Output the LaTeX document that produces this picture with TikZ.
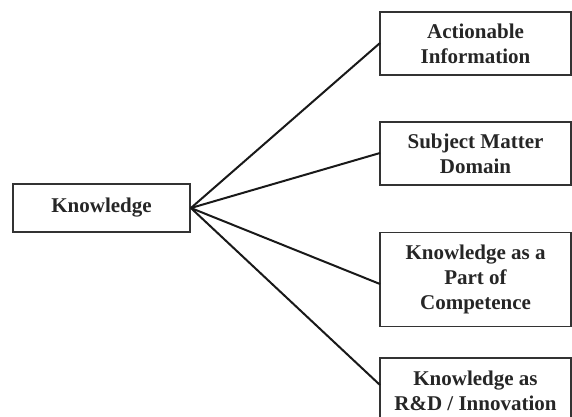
\documentclass[tikz,border=0pt]{standalone}
\usepackage{fontspec}
\setmainfont{Liberation Serif}
\begin{document}
\begin{tikzpicture}[x=1pt,y=-1pt,
  box/.style={draw=black!80, line width=1.8pt, inner sep=0pt, align=center,
    font=\bfseries\fontsize{21}{25}\selectfont, text=black!85},
  link/.style={draw=black!90, line width=2pt}]
\useasboundingbox (0,0) rectangle (572,416);
\clip (0,0) rectangle (572,416);
\node[box, minimum width=177pt, minimum height=48pt] (k) at (101.5,208) {Knowledge};
\node[box, minimum width=191pt, minimum height=63pt] (b1) at (475.5,43.5) {Actionable\\Information};
\node[box, minimum width=191pt, minimum height=63pt] (b2) at (475.5,153.5) {Subject Matter\\Domain};
\node[box, minimum width=191pt, minimum height=94pt] (b3) at (475.5,279.5) {Knowledge as a\\Part of\\Competence};
\node[box, minimum width=191pt, minimum height=66pt] (b4) at (475.5,391) {Knowledge as\\R\&D / Innovation};
\coordinate (e1) at (380,43);
\coordinate (e2) at (380,153);
\coordinate (e3) at (380,284);
\coordinate (e4) at (380,385);
\draw[link] (k.east) -- (e1);
\draw[link] (k.east) -- (e2);
\draw[link] (k.east) -- (e3);
\draw[link] (k.east) -- (e4);
\end{tikzpicture}
\end{document}
